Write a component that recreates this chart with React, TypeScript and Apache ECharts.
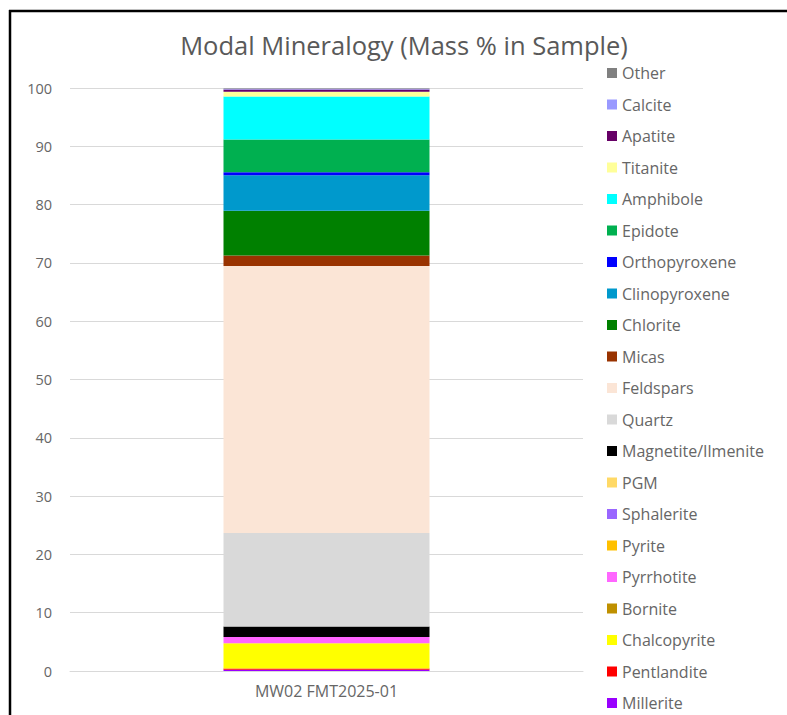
import React, { useEffect, useRef } from "react";
import * as echarts from "echarts";

const categories = ["MW02 FMT2025-01"];
const yTicks = { min: 0, max: 100, interval: 10 };

// bottom-to-top stacking order
const seriesNames = [
  "Millerite",
  "Pentlandite",
  "Chalcopyrite",
  "Bornite",
  "Pyrrhotite",
  "Pyrite",
  "Sphalerite",
  "PGM",
  "Magnetite/Ilmenite",
  "Quartz",
  "Feldspars",
  "Micas",
  "Chlorite",
  "Clinopyroxene",
  "Orthopyroxene",
  "Epidote",
  "Amphibole",
  "Titanite",
  "Apatite",
  "Calcite",
  "Other",
];
const seriesValues = [
  0.2, 0.25, 4.3, 0.0, 1.1, 0.0, 0.0, 0.0, 1.8, 16.0, 45.8, 1.8, 7.7, 6.1, 0.5,
  5.6, 7.4, 0.8, 0.4, 0.1, 0.1,
];
const seriesColors = [
  "#9900ff",
  "#ff0000",
  "#ffff00",
  "#bf9000",
  "#ff66ff",
  "#ffc000",
  "#9966ff",
  "#ffd966",
  "#000000",
  "#d9d9d9",
  "#fbe5d6",
  "#993300",
  "#008000",
  "#0099cc",
  "#0000ff",
  "#00b050",
  "#00ffff",
  "#ffff99",
  "#660066",
  "#9999ff",
  "#808080",
];

const FONT = "'Open Sans', Lato, sans-serif";
const TXT = "#595959";

export default function App() {
  const ref = useRef<HTMLDivElement>(null);
  useEffect(() => {
    if (!ref.current) return;
    const chart = echarts.init(ref.current, undefined, { renderer: "svg" });
    chart.setOption({
      animation: false,
      backgroundColor: "#ffffff",
      title: {
        text: "Modal Mineralogy (Mass % in Sample)",
        left: 399,
        textAlign: "center",
        top: 27,
        textStyle: { fontFamily: FONT, fontSize: 25.5, fontWeight: "normal", color: TXT },
      },
      graphic: [
        { type: "line", shape: { x1: 10, y1: 10, x2: 10, y2: 715 }, style: { stroke: "#000", lineWidth: 2.5 } },
        { type: "line", shape: { x1: 9, y1: 11, x2: 787, y2: 11 }, style: { stroke: "#000", lineWidth: 2.5 } },
      ],
      legend: {
        orient: "vertical",
        left: 607,
        top: 65,
        height: 1000,
        padding: 0,
        icon: "rect",
        itemWidth: 10,
        itemHeight: 10,
        itemGap: 15.5,
        data: [...seriesNames].reverse(),
        textStyle: { fontFamily: FONT, fontSize: 16, color: "#666666", lineHeight: 16 },
      },
      grid: { left: 70, right: 204, top: 88, bottom: 44 },
      xAxis: {
        type: "category",
        data: categories,
        axisLine: { show: true, lineStyle: { color: "#d9d9d9" } },
        axisTick: { show: false },
        axisLabel: { fontFamily: FONT, fontSize: 16, color: "#666666", margin: 12 },
      },
      yAxis: {
        type: "value",
        min: yTicks.min,
        max: yTicks.max,
        interval: yTicks.interval,
        axisLine: { show: false },
        axisTick: { show: false },
        splitLine: { lineStyle: { color: "#d9d9d9" } },
        axisLabel: { fontFamily: FONT, fontSize: 14.5, color: "#666666", margin: 18 },
      },
      series: seriesNames.map((name, i) => ({
        name,
        type: "bar",
        stack: "total",
        barWidth: 206,
        data: [seriesValues[i]],
        itemStyle: { color: seriesColors[i] },
      })),
    });
    return () => chart.dispose();
  }, []);
  return (
    <div
      ref={ref}
      style={{ position: "fixed", left: 0, top: 0, width: 787, height: 715, background: "#fff" }}
    />
  );
}
